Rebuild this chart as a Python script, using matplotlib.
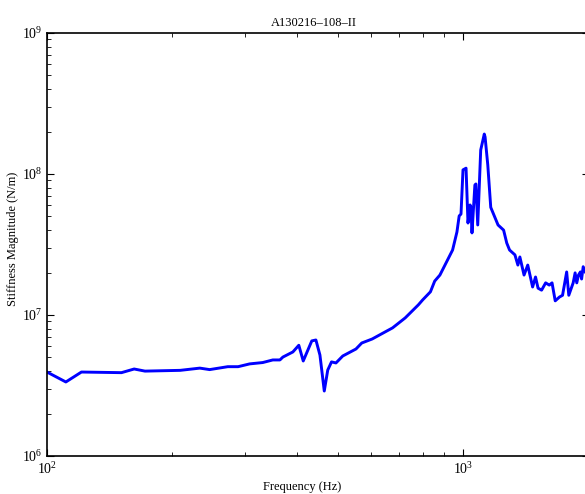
import matplotlib
matplotlib.use('Agg')
import matplotlib.pyplot as plt
import numpy as np

plt.rcParams['font.family'] = ['Liberation Serif', 'DejaVu Serif']
plt.rcParams['mathtext.fontset'] = 'stix'

# frequency (Hz) and stiffness magnitude (N/m)
freq = [100, 111, 121, 151, 162, 172, 209, 233, 246, 272, 288, 307, 330, 349,
        363, 369, 390, 403, 413, 433, 443, 453, 464, 473, 483, 495, 514, 553,
        571, 605, 649, 677, 726, 781, 800, 835, 855, 880, 905, 944, 967, 979,
        989, 1000, 1017, 1028, 1040, 1045, 1051, 1068, 1074, 1085, 1103, 1125,
        1130, 1147, 1166, 1214, 1252, 1274, 1294, 1333, 1355, 1370, 1402, 1431,
        1470, 1494, 1515, 1545, 1580, 1612, 1637, 1666, 1705, 1735, 1775, 1796,
        1840, 1860, 1877, 1895, 1915, 1928, 1945, 1970, 2000]
stiff = [3.94e6, 3.35e6, 3.94e6, 3.9e6, 4.14e6, 4.0e6, 4.05e6, 4.2e6, 4.1e6,
         4.3e6, 4.3e6, 4.5e6, 4.6e6, 4.8e6, 4.8e6, 5.03e6, 5.47e6, 6.1e6,
         4.72e6, 6.55e6, 6.65e6, 5.2e6, 2.89e6, 4.07e6, 4.65e6, 4.57e6, 5.12e6,
         5.74e6, 6.33e6, 6.76e6, 7.57e6, 8.1e6, 9.53e6, 1.18e7, 1.28e7, 1.46e7,
         1.74e7, 1.92e7, 2.26e7, 2.89e7, 3.88e7, 5.04e7, 5.2e7, 1.07e8, 1.1e8,
         4.49e7, 6.03e7, 5.8e7, 3.82e7, 8.36e7, 8.5e7, 4.35e7, 1.48e8, 1.92e8,
         1.83e8, 1.16e8, 5.8e7, 4.35e7, 4.0e7, 3.24e7, 2.89e7, 2.67e7, 2.26e7,
         2.58e7, 1.92e7, 2.26e7, 1.58e7, 1.86e7, 1.55e7, 1.5e7, 1.69e7, 1.63e7,
         1.69e7, 1.26e7, 1.34e7, 1.38e7, 2.02e7, 1.38e7, 1.69e7, 1.99e7, 1.69e7,
         1.92e7, 2.02e7, 1.8e7, 2.2e7, 2.0e7, 2.1e7]

# axes runs a little past the right edge of the figure, like the original
W, H = 585, 494
left, right, top, bottom = 47, 589, 33, 456
fig = plt.figure(figsize=(W / 100, H / 100), dpi=100)
ax = fig.add_axes([left / W, 1 - bottom / H, (right - left) / W, (bottom - top) / H])
ax.plot(freq, stiff, color='#0000ff', lw=2.1)
ax.set_xscale('log')
ax.set_yscale('log')
ax.set_xlim(100, 100 * 10 ** ((right - left) / 416))
ax.set_ylim(1e6, 1e9)

ax.tick_params(which='both', direction='in', top=True, right=True, labelsize=10)
ax.tick_params(which='major', length=5, width=0.8)
ax.tick_params(which='minor', length=3, width=0.6)
for s in ax.spines.values():
    s.set_linewidth(1.2)

ax.set_title('A130216\u2013108\u2013II', fontsize=9, x=0.492, pad=5)
ax.set_xlabel('Frequency (Hz)', fontsize=9, va='center')
ax.xaxis.set_label_coords(0.471, -0.073)
ax.set_ylabel('Stiffness Magnitude (N/m)', fontsize=9, va='center')
ax.yaxis.set_label_coords(-0.0628, 0.513)

fig.savefig('out.png', dpi=100)
